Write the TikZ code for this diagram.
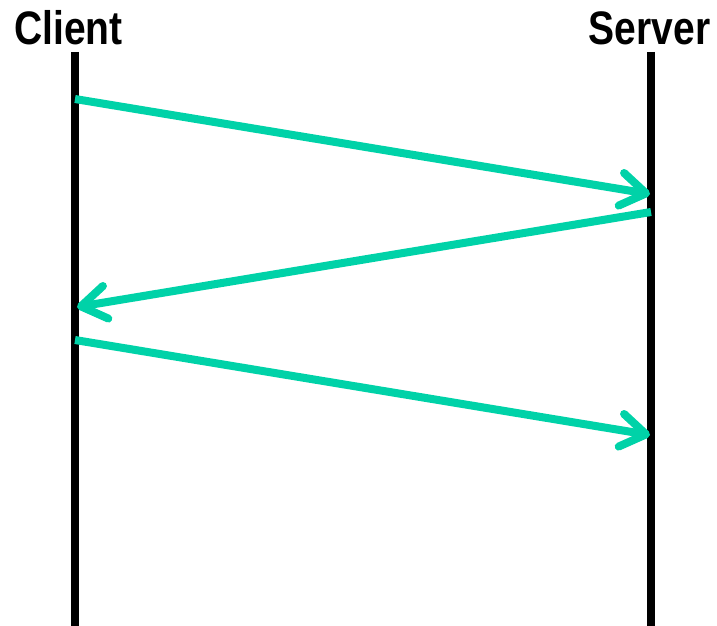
\documentclass[tikz,border=0pt]{standalone}
\usepackage{fontspec}
\setmainfont{Liberation Sans}
\usetikzlibrary{arrows.meta}
\definecolor{msg}{HTML}{00D2A8}
\tikzset{
  lifeline/.style={line width=8pt, black},
  message/.style={line width=8pt, msg, -{Straight Barb[length=25pt,width=33pt,round]}},
  actor/.style={anchor=base, inner sep=0pt, font=\bfseries\fontsize{47}{47}\selectfont}
}
\begin{document}
\begin{tikzpicture}[x=1pt,y=-1pt]
\useasboundingbox (0,0) rectangle (717,626);
\node[actor] (client) at (68.5,45) {\scalebox{0.83}[1]{Client}};
\node[actor] (server) at (649.5,45) {\scalebox{0.83}[1]{Server}};
\coordinate (ctop) at (75,52);
\coordinate (cbot) at (75,626);
\coordinate (stop) at (651,52);
\coordinate (sbot) at (651,626);
\draw[lifeline] (ctop) -- (cbot);
\draw[lifeline] (stop) -- (sbot);
\coordinate (c1) at (75,99);
\coordinate (s1) at (650,194);
\coordinate (s2) at (651,212);
\coordinate (c2) at (77,307);
\coordinate (c3) at (75,340);
\coordinate (s3) at (650,435);
\draw[message] (c1) -- (s1);
\draw[message] (s2) -- (c2);
\draw[message] (c3) -- (s3);
\end{tikzpicture}
\end{document}
